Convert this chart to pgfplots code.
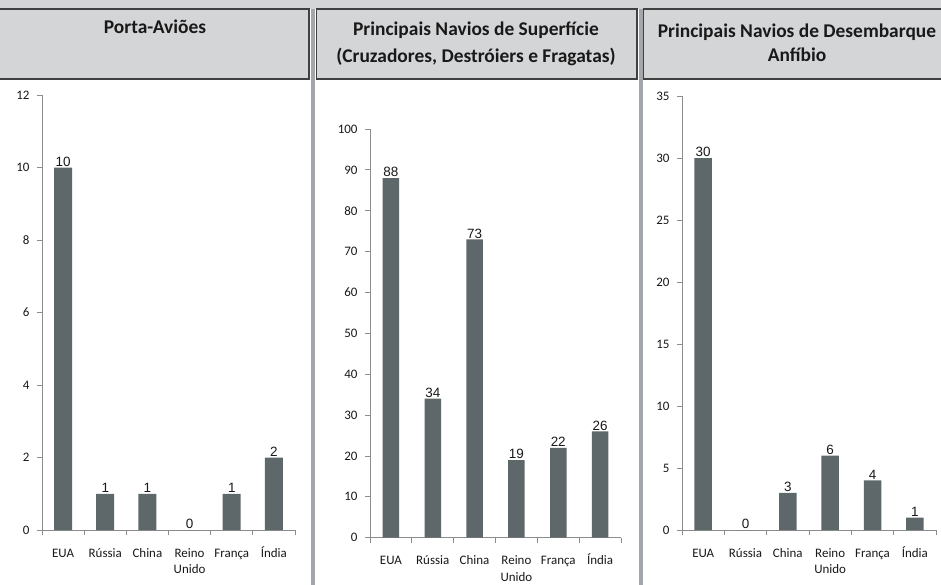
\documentclass[border=0pt]{standalone}
\usepackage{pgfplots}
\pgfplotsset{compat=1.18}
\usepackage{fontspec}
\setmainfont{Carlito}
\newfontfamily\arialf{Liberation Sans}
\definecolor{barc}{RGB}{94,103,106}
\definecolor{axc}{RGB}{140,140,140}
\definecolor{hdrf}{RGB}{212,213,215}
\definecolor{hdrl}{RGB}{64,64,64}
\definecolor{sepc}{RGB}{163,167,171}
\definecolor{txt}{RGB}{25,25,25}
\newcommand\sx{\rule{0pt}{11.5bp}}
\pgfplotsset{
  navios/.style={
    scale only axis,
    anchor=south west,
    ybar, bar width=#1,
    axis x line=bottom, axis y line=left,
    axis line style={draw=axc, line width=0.9bp, -},
    xmin=-0.5, xmax=5.5, ymin=0,
    xtick={-0.5,0.5,...,5.5}, xticklabels={},
    extra x ticks={0,1,2,3,4,5},
    extra x tick labels={\sx EUA,\sx Rússia,\sx China,\sx Reino\\Unido,\sx França,\sx Índia},
    extra x tick style={major tick length=0pt, tick label style={align=center}},
    tick align=outside, major tick length=5bp,
    tick style={draw=axc, line width=0.9bp},
    /pgf/number format/assume math mode=true,
    xticklabel style={font=\fontsize{13}{16.5}\selectfont, text=txt, align=center, anchor=north, yshift=-12bp},
    yticklabel style={font=\fontsize{13}{15}\selectfont, text=txt, xshift=-4bp},
    nodes near coords,
    nodes near coords style={font=\arialf\fontsize{13.5}{14}\selectfont, text=txt, inner sep=1bp},
    clip=false,
  }
}
\begin{document}
\begin{tikzpicture}
\path[fill=white, use as bounding box] (0,0) rectangle (941bp,-585bp);
% top band and headers
\fill[hdrf] (0,0) rectangle (941bp,-9bp);
\draw[hdrl, line width=1.4bp, fill=hdrf] (-2bp,-9bp) rectangle (309bp,-79bp);
\draw[hdrl, line width=1.4bp, fill=hdrf] (316.5bp,-9bp) rectangle (637bp,-79bp);
\draw[hdrl, line width=1.4bp, fill=hdrf] (643.5bp,-9bp) rectangle (945bp,-79bp);
\fill[sepc] (311bp,-9bp) rectangle (315bp,-585bp);
\fill[sepc] (638.5bp,-9bp) rectangle (642.5bp,-585bp);
% titles
\tikzset{ttl/.style={font=\bfseries\fontsize{19.5}{22}\selectfont, text=txt, anchor=base, inner sep=0pt}}
\node[ttl] at (155bp,-33bp) {Porta-Aviões};
\node[ttl] at (476bp,-35bp) {Principais Navios de Superfície};
\node[ttl] at (476bp,-62bp) {(Cruzadores, Destróiers e Fragatas)};
\node[ttl] at (797bp,-37bp) {Principais Navios de Desembarque};
\node[ttl] at (797bp,-61bp) {Anfíbio};

\begin{axis}[navios=18bp, at={(42bp,-530bp)}, width=253bp, height=435bp,
  ymax=12, ytick={0,2,...,12}]
\addplot[fill=barc, draw=none] coordinates {(0,10) (1,1) (2,1) (3,0) (4,1) (5,2)};
\end{axis}

\begin{axis}[navios=16.5bp, at={(370bp,-537.7bp)}, width=251bp, height=408.7bp,
  ymax=100, ytick={0,10,...,100}]
\addplot[fill=barc, draw=none] coordinates {(0,88) (1,34) (2,73) (3,19) (4,22) (5,26)};
\end{axis}

\begin{axis}[navios=17.5bp, at={(682bp,-530bp)}, width=254bp, height=434bp,
  ymax=35, ytick={0,5,...,35}]
\addplot[fill=barc, draw=none] coordinates {(0,30) (1,0) (2,3) (3,6) (4,4) (5,1)};
\end{axis}
\end{tikzpicture}
\end{document}
